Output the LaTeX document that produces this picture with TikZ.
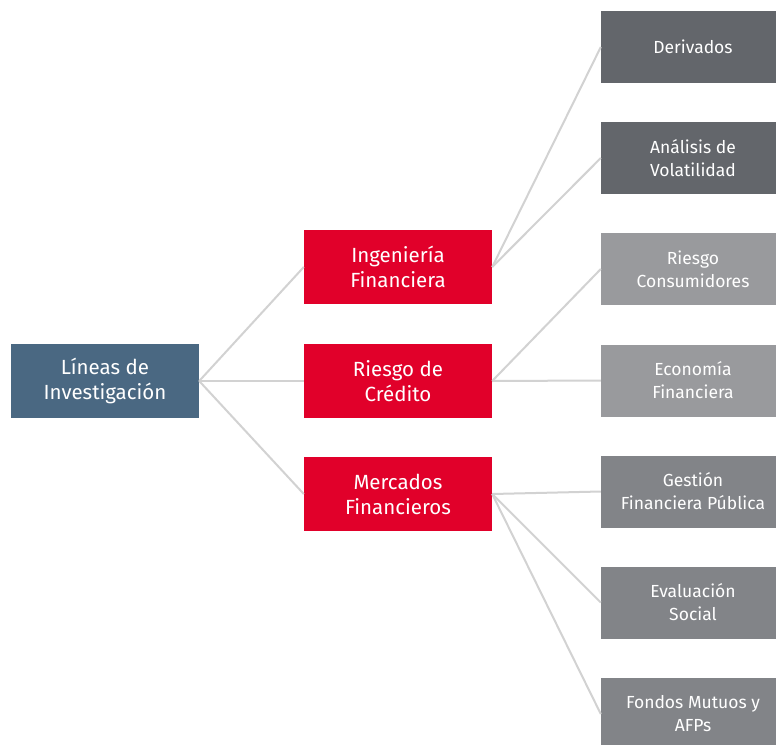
\documentclass[tikz,border=0pt]{standalone}
\usepackage{fontspec}
\setmainfont{Fira Sans}
\usepackage{tikz}
\definecolor{rootblue}{HTML}{4A6882}
\definecolor{linered}{HTML}{E1002A}
\definecolor{darkgray}{HTML}{63666B}
\definecolor{lightgray}{HTML}{999A9D}
\definecolor{midgray}{HTML}{828488}
\definecolor{linkgray}{HTML}{D2D2D2}

\begin{document}
\begin{tikzpicture}[x=1pt,y=-1pt]
  \tikzstyle{box}=[rectangle, inner sep=0pt, align=center, text=white]
  \tikzstyle{mainbox}=[box, minimum width=188pt, minimum height=74pt, font=\fontsize{20.5}{25}\selectfont]
  \tikzstyle{subbox}=[box, minimum width=184pt, minimum height=72pt, font=\fontsize{17.5}{23}\selectfont]
  \tikzstyle{link}=[draw=linkgray, line width=2pt]
  \clip (0,0) rectangle (776,744);
  \fill[white] (0,0) rectangle (776,744);

  \node[mainbox, fill=rootblue] (L) at (105,381) {Líneas de\\Investigación};

  \node[mainbox, fill=linered] (R_1) at (398,267) {Ingeniería\\Financiera};
  \node[mainbox, fill=linered] (R_2) at (398,381) {Riesgo de\\Crédito};
  \node[mainbox, fill=linered] (R_3) at (398,494) {Mercados\\Financieros};

  \node[subbox, fill=darkgray] (S_1) at (693,47) {Derivados};
  \node[subbox, fill=darkgray] (S_2) at (693,158) {Análisis de\\Volatilidad};
  \node[subbox, fill=lightgray] (S_3) at (693,269) {Riesgo\\Consumidores};
  \node[subbox, fill=lightgray] (S_4) at (693,380.5) {Economía\\Financiera};
  \node[subbox, fill=midgray] (S_5) at (693,491.5) {Gestión\\Financiera Pública};
  \node[subbox, fill=midgray] (S_6) at (693,602.5) {Evaluación\\Social};
  \node[subbox, fill=midgray] (S_7) at (693,714) {Fondos Mutuos y\\AFPs};

  \draw[link] (L.east) -- (R_1.west);
  \draw[link] (L.east) -- (R_2.west);
  \draw[link] (L.east) -- (R_3.west);

  \draw[link] (R_1.east) -- (S_1.west);
  \draw[link] (R_1.east) -- (S_2.west);
  \draw[link] (R_2.east) -- (S_3.west);
  \draw[link] (R_2.east) -- (S_4.west);
  \draw[link] (R_3.east) -- (S_5.west);
  \draw[link] (R_3.east) -- (S_6.west);
  \draw[link] (R_3.east) -- (S_7.west);
\end{tikzpicture}
\end{document}
